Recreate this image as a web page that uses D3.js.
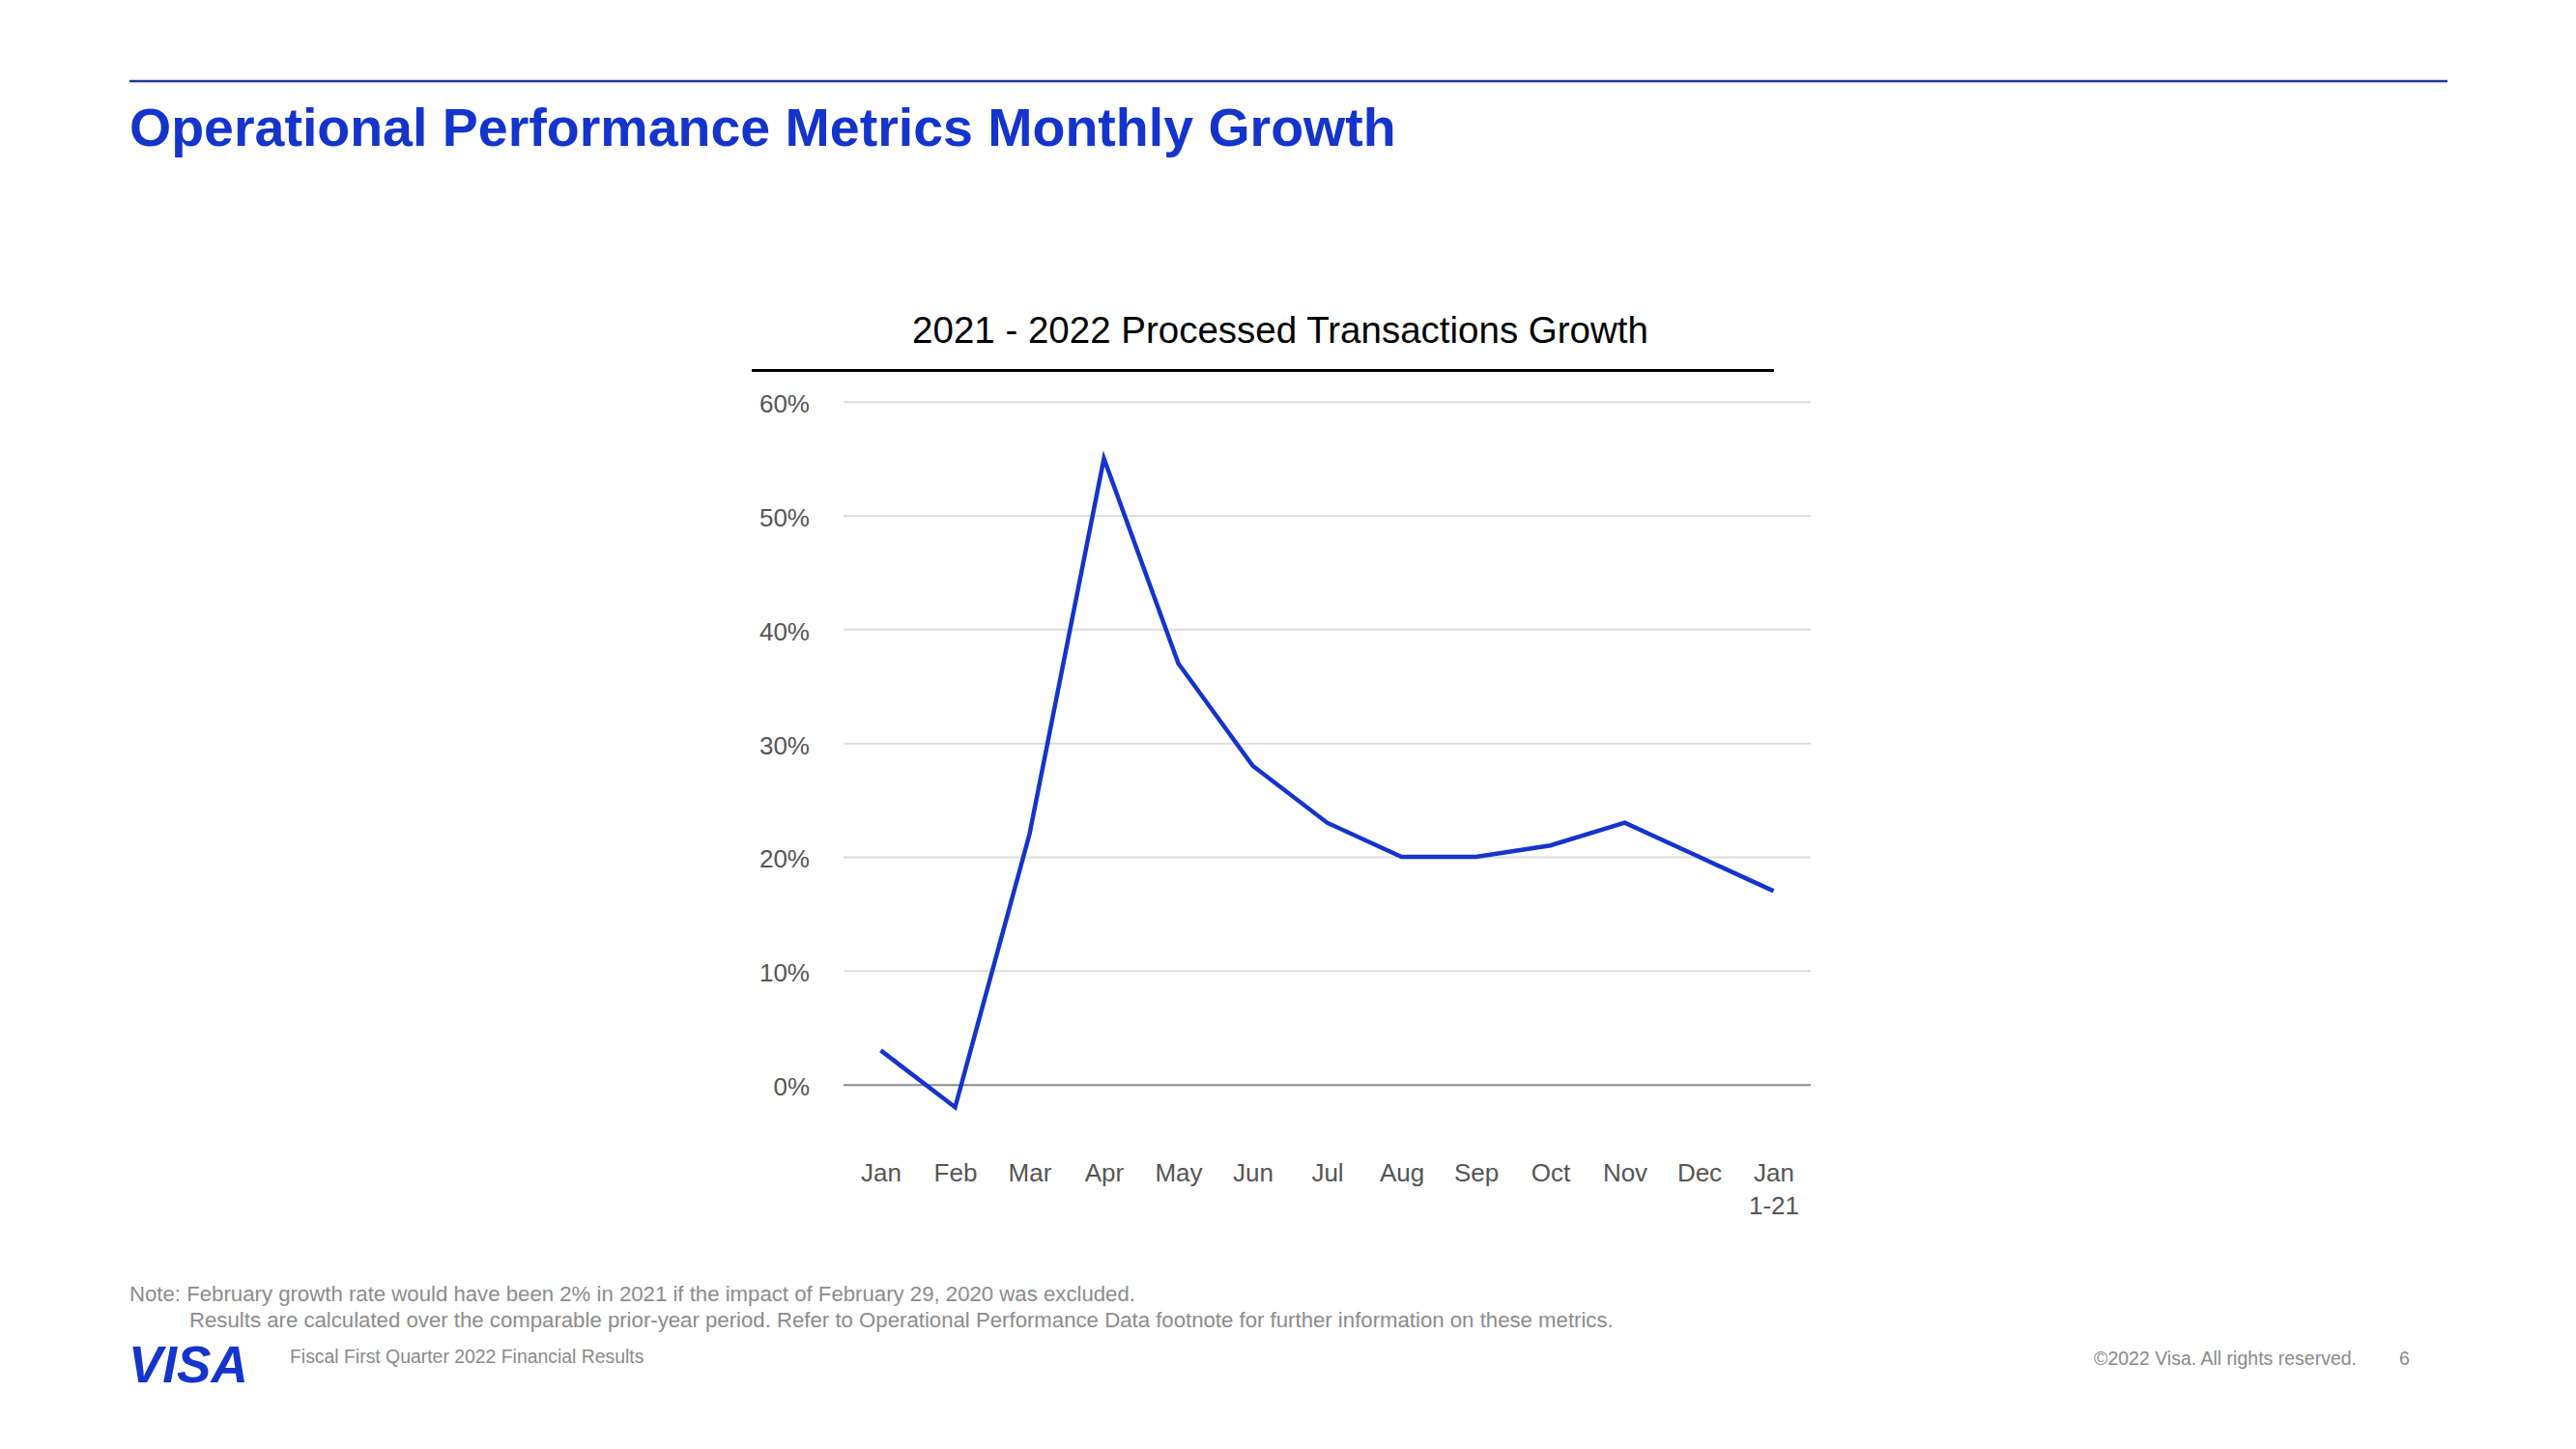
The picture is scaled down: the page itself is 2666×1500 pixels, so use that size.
<!DOCTYPE html>
<html>
<head>
<meta charset="utf-8">
<script src="https://cdn.jsdelivr.net/npm/d3@7"></script>
<style>
  html, body { margin: 0; padding: 0; background: #ffffff; }
  svg { display: block; font-family: "Liberation Sans", Arial, sans-serif; }
</style>
</head>
<body>
<svg id="chart" width="2666" height="1500"></svg>
<script>
// ---- Data ----
const months = ["Jan", "Feb", "Mar", "Apr", "May", "Jun", "Jul", "Aug", "Sep", "Oct", "Nov", "Dec", "Jan 1-21"];
const monthLabels = [["Jan"], ["Feb"], ["Mar"], ["Apr"], ["May"], ["Jun"], ["Jul"], ["Aug"], ["Sep"], ["Oct"], ["Nov"], ["Dec"], ["Jan", "1-21"]];
const growth = [3, -2, 22, 55, 37, 28, 23, 20, 20, 21, 23, 20, 17];
const yTicks = [0, 10, 20, 30, 40, 50, 60];

const pageTitle = "Operational Performance Metrics Monthly Growth";
const chartTitle = "2021 - 2022 Processed Transactions Growth";
const noteLines = [
  "Note: February growth rate would have been 2% in 2021 if the impact of February 29, 2020 was excluded.",
  "Results are calculated over the comparable prior-year period. Refer to Operational Performance Data footnote for further information on these metrics."
];
const footerLeft = "Fiscal First Quarter 2022 Financial Results";
const footerRight = "©2022 Visa. All rights reserved.";
const pageNumber = "6";

// ---- Layout ----
const svg = d3.select("#chart");
const plot = { left: 873, right: 1874, top: 415.7, bottom: 1122.7 };
const blue = "#1434CB";

// Top rule
svg.append("line")
  .attr("x1", 134).attr("x2", 2533).attr("y1", 84).attr("y2", 84)
  .attr("stroke", "#1f3a9e").attr("stroke-width", 2.3);

// Page title
svg.append("text")
  .attr("x", 134).attr("y", 151)
  .attr("font-size", 55.5).attr("font-weight", "bold")
  .attr("fill", blue)
  .text(pageTitle);

// Chart title
svg.append("text")
  .attr("x", 1325).attr("y", 355)
  .attr("text-anchor", "middle")
  .attr("font-size", 38.5)
  .attr("fill", "#000")
  .text(chartTitle);

svg.append("line")
  .attr("x1", 778).attr("x2", 1836).attr("y1", 383.5).attr("y2", 383.5)
  .attr("stroke", "#000").attr("stroke-width", 3);

// Scales
const x = d3.scalePoint().domain(months).range([plot.left, plot.right]).padding(0.5);
const y = d3.scaleLinear().domain([0, 60]).range([plot.bottom, plot.top]);

// Y axis with gridlines
const yAxis = svg.append("g")
  .attr("transform", `translate(${plot.left},0)`)
  .call(d3.axisLeft(y).tickValues(yTicks).tickFormat(d => d + "%")
    .tickSize(-(plot.right - plot.left)).tickPadding(35));
yAxis.select(".domain").remove();
yAxis.selectAll(".tick line")
  .attr("stroke", d => d === 0 ? "#8a8a8a" : "#dcdcdc")
  .attr("stroke-width", 2);
yAxis.selectAll(".tick text")
  .attr("font-size", 26)
  .attr("font-family", "Liberation Sans, Arial, sans-serif")
  .attr("fill", "#555")
  .attr("dy", "0.42em");

// X axis labels
const xAxis = svg.append("g")
  .attr("transform", `translate(0,${plot.bottom})`)
  .call(d3.axisBottom(x).tickSize(0).tickFormat(""));
xAxis.select(".domain").remove();
xAxis.selectAll(".tick").each(function(d, i) {
  const t = d3.select(this).append("text")
    .attr("text-anchor", "middle")
    .attr("font-size", 26)
    .attr("font-family", "Liberation Sans, Arial, sans-serif")
    .attr("fill", "#555");
  monthLabels[i].forEach((s, j) => {
    t.append("tspan").attr("x", 0).attr("y", 100 + j * 34).text(s);
  });
});

// Line
const line = d3.line().x((d, i) => x(months[i])).y(d => y(d));
svg.append("path")
  .datum(growth)
  .attr("d", line)
  .attr("fill", "none")
  .attr("stroke", blue)
  .attr("stroke-width", 4.5)
  .attr("stroke-linejoin", "miter");

// Notes
svg.append("text")
  .attr("x", 134).attr("y", 1347)
  .attr("font-size", 22.2).attr("fill", "#8c8c8c")
  .text(noteLines[0]);
svg.append("text")
  .attr("x", 196).attr("y", 1374)
  .attr("font-size", 22.2).attr("fill", "#8c8c8c")
  .text(noteLines[1]);

// Footer
svg.append("text")
  .attr("x", 133).attr("y", 1431)
  .attr("font-size", 53).attr("font-weight", "bold").attr("font-style", "italic")
  .attr("fill", blue)
  .text("VISA");
svg.append("text")
  .attr("x", 300).attr("y", 1411)
  .attr("font-size", 19.4).attr("fill", "#8a8a8a")
  .text(footerLeft);
svg.append("text")
  .attr("x", 2439).attr("y", 1413)
  .attr("text-anchor", "end")
  .attr("font-size", 19.5).attr("fill", "#8a8a8a")
  .text(footerRight);
svg.append("text")
  .attr("x", 2483).attr("y", 1413)
  .attr("font-size", 19.5).attr("fill", "#8a8a8a")
  .text(pageNumber);
</script>
</body>
</html>
